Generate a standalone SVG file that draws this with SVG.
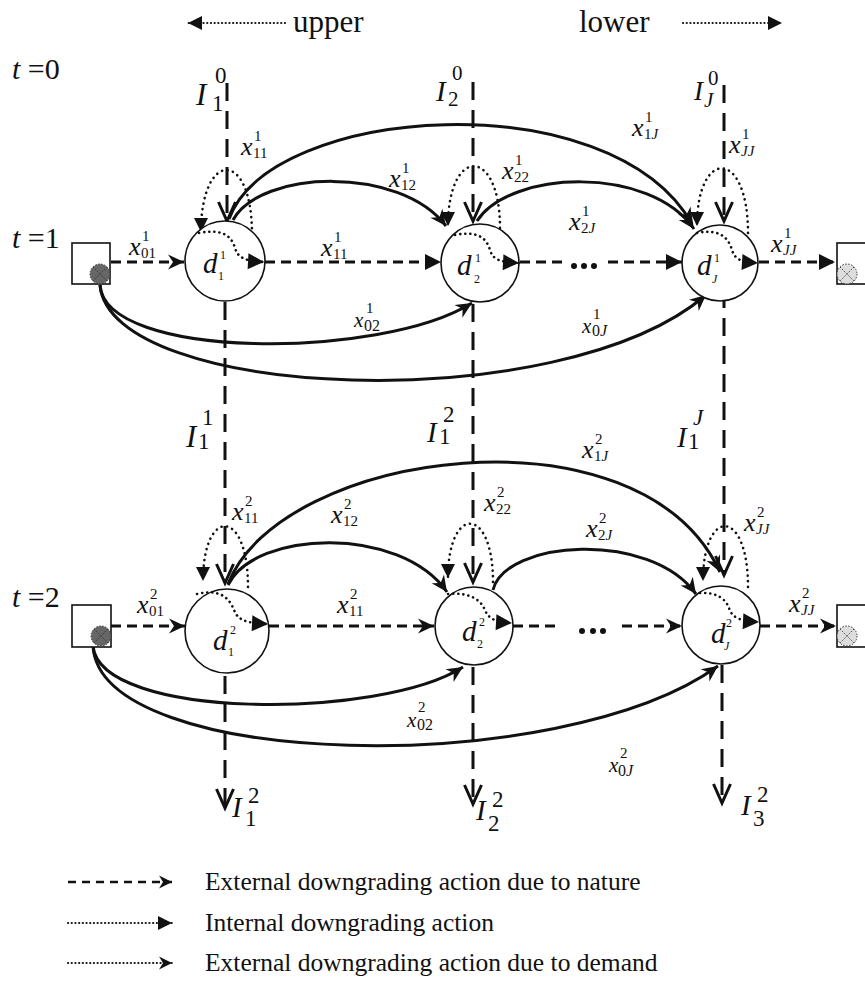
<svg xmlns="http://www.w3.org/2000/svg" width="865" height="982" viewBox="0 0 865 982">
<style>
text{font-family:"Liberation Serif","Times New Roman",serif;fill:#111}
.it{font-style:italic}
.big{font-size:30px}
.x{font-size:26px;font-style:italic}
.xs{font-size:21px;font-style:italic}
.s{font-size:15px}
.s15{font-size:16px}
.I{font-size:31px;font-style:italic}
.I28{font-size:29px;font-style:italic}
.I26{font-size:27px;font-style:italic}
.s22{font-size:23px}
.s20{font-size:21px}
.d{font-size:29px;font-style:italic}
.ds{font-size:12px}
.leg{font-size:25.5px}
.node{fill:#fff;stroke:#111;stroke-width:1.6}
.vd{fill:none;stroke:#111;stroke-width:3;stroke-dasharray:18 10}
.hd{fill:none;stroke:#111;stroke-width:3;stroke-dasharray:10 6}
.arc{fill:none;stroke:#111;stroke-width:3}
.loop{fill:none;stroke:#111;stroke-width:2.6;stroke-dasharray:0.1 5.5;stroke-linecap:round}
.inn{fill:none;stroke:#111;stroke-width:2.6;stroke-dasharray:0.1 5;stroke-linecap:round}
.dot{fill:none;stroke:#111;stroke-width:2.2;stroke-dasharray:0.1 3.6;stroke-linecap:round}
.sq{fill:#fff;stroke:#111;stroke-width:1.6}
.g1{fill:#666;stroke:#333;stroke-width:1;stroke-dasharray:1.5 1.5}
.g2{fill:#ddd;stroke:#333;stroke-width:1;stroke-dasharray:1.5 1.5}
.xx{stroke:#333;stroke-width:0.9;stroke-dasharray:1.5 1.5}
</style>
<defs>
<marker id="stl" markerUnits="userSpaceOnUse" viewBox="-17 -9 18 18" markerWidth="18" markerHeight="18" refX="0" refY="0" orient="auto" overflow="visible">
<path d="M0,0 L-16,-7.5 L-11,0 L-16,7.5 Z" fill="#111" stroke="none"/>
</marker>
<marker id="stlS" markerUnits="userSpaceOnUse" viewBox="-14 -8 15 16" markerWidth="15" markerHeight="16" refX="0" refY="0" orient="auto" overflow="visible">
<path d="M0,0 L-13,-6.5 L-9,0 L-13,6.5 Z" fill="#111" stroke="none"/>
</marker>
<marker id="tri" markerUnits="userSpaceOnUse" viewBox="-17 -9 18 18" markerWidth="18" markerHeight="18" refX="0" refY="0" orient="auto" overflow="visible">
<path d="M0,0 L-16,-8 L-16,8 Z" fill="#111" stroke="none"/>
</marker>
<marker id="triS" markerUnits="userSpaceOnUse" viewBox="-15 -8 16 16" markerWidth="16" markerHeight="16" refX="0" refY="0" orient="auto" overflow="visible">
<path d="M0,0 L-14,-7 L-14,7 Z" fill="#111" stroke="none"/>
</marker>
<marker id="vee" markerUnits="userSpaceOnUse" viewBox="-22 -12 24 24" markerWidth="24" markerHeight="24" refX="0" refY="0" orient="auto" overflow="visible">
<path d="M-19,-8.5 L0,0 L-19,8.5" fill="none" stroke="#111" stroke-width="3"/>
</marker>
</defs>

<g id="header">
<path class="dot" d="M285,23 L188,23" marker-end="url(#triS)"/>
<text x="293" y="32" style="font-size:31px">upper</text>
<text x="579" y="32" style="font-size:31px">lower</text>
<path class="dot" d="M683,23 L782,23" marker-end="url(#triS)"/>
</g>

<g id="time-labels">
<text class="big" x="12" y="79"><tspan class="it">t</tspan> =0</text>
<text class="big" x="12" y="248"><tspan class="it">t</tspan> =1</text>
<text class="big" x="12" y="607"><tspan class="it">t</tspan> =2</text>
</g>

<g id="connectors">
<path class="vd" d="M227,83 L227,221" marker-end="url(#vee)"/>
<path class="vd" d="M473,82 L473,221" marker-end="url(#vee)"/>
<path class="vd" d="M724,85 L724,221" marker-end="url(#vee)"/>
<path class="vd" d="M225,302 L225,583" marker-end="url(#vee)"/>
<path class="vd" d="M473,304 L473,582" marker-end="url(#vee)"/>
<path class="vd" d="M724,290 L724,575" marker-end="url(#vee)"/>
<path class="vd" d="M225,676 L225,808" marker-end="url(#vee)"/>
<path class="vd" d="M473,667 L473,804" marker-end="url(#vee)"/>
<path class="vd" d="M722,665 L722,803" marker-end="url(#vee)"/>

<path class="hd" d="M111,262 L184,262" marker-end="url(#stl)"/>
<path class="hd" d="M265,262 L441,262" marker-end="url(#tri)"/>
<path class="hd" d="M520,262 L562,262"/>
<path class="hd" d="M608,262 L682,262" marker-end="url(#tri)"/>
<path class="hd" d="M759,262 L835,262" marker-end="url(#tri)"/>
<path class="hd" d="M111,626 L185,626" marker-end="url(#stl)"/>
<path class="hd" d="M269,626 L434,626" marker-end="url(#stl)"/>
<path class="hd" d="M513,626 L558,626"/>
<path class="hd" d="M622,626 L682,626" marker-end="url(#stl)"/>
<path class="hd" d="M760,626 L836,626" marker-end="url(#stl)"/>

<path class="arc" d="M229,219 C270,105 610,80 692,224" marker-end="url(#stl)"/>
<path class="arc" d="M233,220 C260,170 400,165 446,226" marker-end="url(#stl)"/>
<path class="arc" d="M477,221 C510,170 650,165 694,229" marker-end="url(#stl)"/>
<path class="arc" d="M100,285 C105,360 380,360 472,303" marker-end="url(#stl)"/>
<path class="arc" d="M100,285 C110,400 560,420 706,295" marker-end="url(#stl)"/>
<path class="arc" d="M228,584 C280,450 640,400 720,572" marker-end="url(#stl)"/>
<path class="arc" d="M228,585 C255,530 400,525 447,592" marker-end="url(#stl)"/>
<path class="arc" d="M493,590 C505,540 650,530 696,594" marker-end="url(#stl)"/>
<path class="arc" d="M93,646 C100,720 380,720 463,667" marker-end="url(#stl)"/>
<path class="arc" d="M93,646 C100,770 560,780 718,666" marker-end="url(#stl)"/>

<path class="loop" d="M252,234 C252,148 201,150 201,232" marker-end="url(#triS)"/>
<path class="loop" d="M500,228 C500,146 448,146 448,226" marker-end="url(#triS)"/>
<path class="loop" d="M748,233 C748,148 697,148 697,226" marker-end="url(#triS)"/>
<path class="loop" d="M248,587 C248,507 203,507 203,581" marker-end="url(#triS)"/>
<path class="loop" d="M493,582 C493,505 448,505 448,578" marker-end="url(#triS)"/>
<path class="loop" d="M748,587 C748,507 703,507 703,581" marker-end="url(#triS)"/>
</g>

<g id="src1"><rect class="sq" x="72" y="243" width="38" height="41"/><circle class="g1" cx="100" cy="274" r="10"/><path class="xx" d="M93,267 L107,281 M107,267 L93,281"/></g>
<g id="src2"><rect class="sq" x="72" y="605" width="39" height="42"/><circle class="g1" cx="101" cy="636" r="10"/><path class="xx" d="M94,629 L108,643 M108,629 L94,643"/></g>
<g id="sink1"><rect class="sq" x="837" y="243" width="40" height="41"/><circle class="g2" cx="847" cy="274" r="10"/><path class="xx" d="M840,267 L854,281 M854,267 L840,281"/></g>
<g id="sink2"><rect class="sq" x="837" y="605" width="40" height="42"/><circle class="g2" cx="847" cy="636" r="10"/><path class="xx" d="M840,629 L854,643 M854,629 L840,643"/></g>

<g id="d1t1"><circle class="node" cx="225" cy="261" r="40"/>
<path class="inn" d="M199,233 C225,228 232,238 235,248 C238,258 245,261 264,262" marker-end="url(#tri)"/>
<text class="d" x="203" y="273">d</text><text class="ds" x="220" y="259">1</text><text class="ds" x="218" y="280">1</text></g>
<g id="d2t1"><circle class="node" cx="480" cy="263" r="39"/>
<path class="inn" d="M455,235 C480,230 487,240 490,250 C493,260 500,262 519,263" marker-end="url(#tri)"/>
<text class="d" x="457" y="275">d</text><text class="ds" x="475" y="262">1</text><text class="ds" x="474" y="283">2</text></g>
<g id="dJt1"><circle class="node" cx="720" cy="263" r="38"/>
<path class="inn" d="M697,233 C722,228 729,240 732,250 C735,260 742,262 758,263" marker-end="url(#tri)"/>
<text class="d" x="697" y="275">d</text><text class="ds" x="714" y="262">1</text><text class="ds it" x="712" y="283">J</text></g>
<g id="d1t2"><circle class="node" cx="227" cy="631" r="42"/>
<path class="inn" d="M197,594 C222,588 230,600 234,610 C238,620 245,623 268,624" marker-end="url(#tri)"/>
<text class="d" x="213" y="650">d</text><text class="ds" x="230" y="634">2</text><text class="ds" x="228" y="656">1</text></g>
<g id="d2t2"><circle class="node" cx="474" cy="626" r="39"/>
<path class="inn" d="M448,594 C470,592 480,600 484,608 C488,618 493,622 512,623" marker-end="url(#tri)"/>
<text class="d" x="462" y="641">d</text><text class="ds" x="479" y="626">2</text><text class="ds" x="477" y="648">2</text></g>
<g id="dJt2"><circle class="node" cx="721" cy="625" r="39"/>
<path class="inn" d="M700,593 C718,592 726,600 729,608 C732,617 738,621 759,622" marker-end="url(#tri)"/>
<text class="d" x="711" y="643">d</text><text class="ds" x="726" y="627">2</text><text class="ds it" x="724" y="650">J</text></g>

<g id="ellipses">
<circle cx="574" cy="266" r="3" fill="#111"/><circle cx="584" cy="266" r="3" fill="#111"/><circle cx="594" cy="266" r="3" fill="#111"/>
<circle cx="582" cy="631" r="3" fill="#111"/><circle cx="593" cy="631" r="3" fill="#111"/><circle cx="603" cy="631" r="3" fill="#111"/>
</g>

<g id="xlabels">
<text class="x" x="241" y="155">x</text><text class="s" x="254" y="141">1</text><text class="s" x="253" y="158">11</text>
<text class="x" x="389" y="187">x</text><text class="s" x="402" y="173">1</text><text class="s" x="401" y="190">12</text>
<text class="x" x="502" y="179">x</text><text class="s" x="515" y="165">1</text><text class="s" x="514" y="182">22</text>
<text class="x" x="632" y="136">x</text><text class="s" x="645" y="122">1</text><text class="s" x="644" y="139">1<tspan class="it">J</tspan></text>
<text class="x" x="729" y="153">x</text><text class="s" x="742" y="139">1</text><text class="s it" x="741" y="156">JJ</text>
<text class="x" x="129" y="255">x</text><text class="s" x="142" y="241">1</text><text class="s" x="141" y="258">01</text>
<text class="x" x="321" y="256">x</text><text class="s" x="334" y="242">1</text><text class="s" x="333" y="259">11</text>
<text class="x" x="569" y="230">x</text><text class="s" x="582" y="216">1</text><text class="s" x="581" y="233">2<tspan class="it">J</tspan></text>
<text class="x" x="771" y="252">x</text><text class="s" x="784" y="238">1</text><text class="s it" x="783" y="255">JJ</text>

<text class="x" x="582" y="458">x</text><text class="s" x="595" y="444">2</text><text class="s" x="594" y="461">1<tspan class="it">J</tspan></text>
<text class="x" x="232" y="520">x</text><text class="s" x="245" y="506">2</text><text class="s" x="244" y="523">11</text>
<text class="x" x="331" y="523">x</text><text class="s" x="344" y="509">2</text><text class="s" x="343" y="526">12</text>
<text class="x" x="484" y="511">x</text><text class="s" x="497" y="497">2</text><text class="s" x="496" y="514">22</text>
<text class="x" x="586" y="537">x</text><text class="s" x="599" y="523">2</text><text class="s" x="598" y="540">2<tspan class="it">J</tspan></text>
<text class="x" x="744" y="531">x</text><text class="s" x="757" y="517">2</text><text class="s it" x="756" y="534">JJ</text>
<text class="x" x="137" y="613">x</text><text class="s" x="150" y="599">2</text><text class="s" x="149" y="616">01</text>
<text class="x" x="337" y="613">x</text><text class="s" x="350" y="599">2</text><text class="s" x="349" y="616">11</text>
<text class="x" x="789" y="612">x</text><text class="s" x="802" y="598">2</text><text class="s it" x="801" y="615">JJ</text>

<text class="xs" x="354" y="327">x</text><text class="s" x="366" y="313">1</text><text class="s15" x="364" y="331">02</text>
<text class="xs" x="582" y="333">x</text><text class="s" x="593" y="319">1</text><text class="s15" x="592" y="336">0<tspan class="it">J</tspan></text>
<text class="xs" x="407" y="727">x</text><text class="s" x="418" y="712">2</text><text class="s15" x="417" y="730">02</text>
<text class="xs" x="609" y="772">x</text><text class="s" x="620" y="758">2</text><text class="s15" x="618" y="776">0<tspan class="it">J</tspan></text>
</g>

<g id="ilabels">
<text class="I" x="196" y="105">I</text><text class="s22" x="215" y="83">0</text><text class="s22" x="212" y="111">1</text>
<text class="I28" x="436" y="101">I</text><text class="s20" x="452" y="80">0</text><text class="s20" x="448" y="106">2</text>
<text class="I26" x="694" y="100">I</text><text class="s20" x="708" y="85">0</text><text class="s20 it" x="704" y="107">J</text>
<text class="I" x="186" y="447">I</text><text class="s22" x="202" y="425">1</text><text class="s22" x="198" y="449">1</text>
<text class="I28" x="427" y="442">I</text><text class="s22" x="443" y="422">2</text><text class="s22" x="439" y="444">1</text>
<text class="I28" x="677" y="447">I</text><text class="s22 it" x="693" y="425">J</text><text class="s22" x="688" y="449">1</text>
<text class="I28" x="232" y="817">I</text><text class="s22" x="248" y="803">2</text><text class="s22" x="245" y="826">1</text>
<text class="I28" x="476" y="820">I</text><text class="s22" x="492" y="807">2</text><text class="s22" x="488" y="831">2</text>
<text class="I28" x="741" y="815">I</text><text class="s22" x="757" y="802">2</text><text class="s22" x="753" y="826">3</text>
</g>

<g id="legend">
<path class="hd" d="M68,882 L172,882" style="stroke-width:2.4;stroke-dasharray:8 6" marker-end="url(#stlS)"/>
<text class="leg" x="205" y="890">External downgrading action due to nature</text>
<path class="dot" d="M68,923 L172,923" marker-end="url(#triS)"/>
<text class="leg" x="205" y="931">Internal downgrading action</text>
<path class="dot" d="M68,963 L172,963" marker-end="url(#stlS)"/>
<text class="leg" x="205" y="971">External downgrading action due to demand</text>
</g>
</svg>
